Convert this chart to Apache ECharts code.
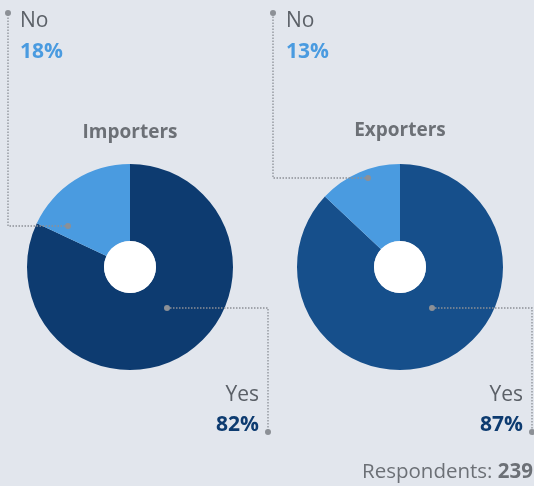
<!DOCTYPE html>
<html>
<head>
<meta charset="utf-8">
<script src="https://cdn.jsdelivr.net/npm/echarts@6/dist/echarts.min.js"></script>
<style>
  html, body { margin: 0; padding: 0; background: #e2e6ed; }
  #chart { width: 534px; height: 486px; }
</style>
</head>
<body>
<div id="chart"></div>
<script>
// Survey answers per trader group
const groups = ['Importers', 'Exporters'];
const answers = ['Yes', 'No'];
const yesShare = [82, 87];
const noShare = [18, 13];
const respondents = 239;

const FONT = '"Open Sans", "Noto Sans", sans-serif';
const yesColors = ['#0d3b70', '#164f8b'];
const noColor = '#4a9be0';
const lineColor = '#8c9096';

const centers = [[130, 267], [400, 267]];
const outerR = 103, innerR = 26;

// Leader-line layout per pie: anchor offsets from the centre and the elbow columns
const noLeader = [
  { anchor: [-62, -41], col: 8, top: 13, textX: 20 },
  { anchor: [-32, -89], col: 273, top: 13, textX: 286 }
];
const yesLeader = [
  { anchor: [37, 41], col: 268, bottom: 432, textX: 259 },
  { anchor: [32, 41], col: 532, bottom: 432, textX: 523 }
];

const chart = echarts.init(document.getElementById('chart'));

const series = groups.map((g, i) => ({
  type: 'pie',
  name: g,
  center: centers[i],
  radius: [innerR, outerR],
  startAngle: 90,
  clockwise: true,
  silent: true,
  label: { show: false },
  labelLine: { show: false },
  itemStyle: { borderWidth: 0 },
  data: [
    { name: answers[0], value: yesShare[i], itemStyle: { color: yesColors[i] } },
    { name: answers[1], value: noShare[i], itemStyle: { color: noColor } }
  ]
}));

// White hole in each doughnut
const holes = centers.map(c => ({
  type: 'circle',
  shape: { cx: c[0], cy: c[1], r: innerR },
  style: { fill: '#ffffff' },
  silent: true,
  z: 10
}));

function dot(x, y) {
  return { type: 'circle', shape: { cx: x, cy: y, r: 3 }, style: { fill: lineColor }, z: 20, silent: true };
}
function path(points) {
  return {
    type: 'polyline',
    shape: { points },
    style: { stroke: lineColor, lineWidth: 1.3, lineDash: [1.5, 1.5], fill: null },
    z: 19,
    silent: true
  };
}
function text(str, x, y, opts) {
  return {
    type: 'text',
    x, y, z: 30, silent: true,
    style: Object.assign({
      text: str,
      font: '21px ' + FONT,
      fill: '#5b6067',
      align: 'left',
      verticalAlign: 'middle'
    }, opts || {})
  };
}

const annotations = [];
groups.forEach((g, i) => {
  const c = centers[i];
  // "No" leader: from inside the slice, out to the left, then up to the label
  const n = noLeader[i];
  const na = [c[0] + n.anchor[0], c[1] + n.anchor[1]];
  annotations.push(path([na, [n.col, na[1]], [n.col, n.top]]));
  annotations.push(dot(na[0], na[1]), dot(n.col, n.top));
  annotations.push(text(answers[1], n.textX, 21));
  annotations.push(text(noShare[i] + '%', n.textX, 52, { font: 'bold 21px ' + FONT, fill: noColor }));

  // "Yes" leader: out to the right, then down to the label
  const y = yesLeader[i];
  const ya = [c[0] + y.anchor[0], c[1] + y.anchor[1]];
  annotations.push(path([ya, [y.col, ya[1]], [y.col, y.bottom]]));
  annotations.push(dot(ya[0], ya[1]), dot(y.col, y.bottom));
  annotations.push(text(answers[0], y.textX, 395, { align: 'right' }));
  annotations.push(text(yesShare[i] + '%', y.textX, 425, { align: 'right', font: 'bold 21px ' + FONT, fill: '#0d3b70' }));

  // Group title above each pie
  annotations.push(text(g, c[0], i === 0 ? 133 : 131, {
    align: 'center', font: 'bold 19px ' + FONT, fill: '#6c7076'
  }));
});

annotations.push({
  type: 'text', x: 362, y: 472, z: 30, silent: true,
  style: {
    text: '{a|Respondents: }{b|' + respondents + '}',
    verticalAlign: 'middle',
    rich: {
      a: { font: '20.5px ' + FONT, fill: '#6c7076' },
      b: { font: 'bold 20.5px ' + FONT, fill: '#6c7076' }
    }
  }
});

chart.setOption({
  backgroundColor: '#e2e6ed',
  animation: false,
  series,
  graphic: { elements: holes.concat(annotations) }
});
</script>
</body>
</html>
